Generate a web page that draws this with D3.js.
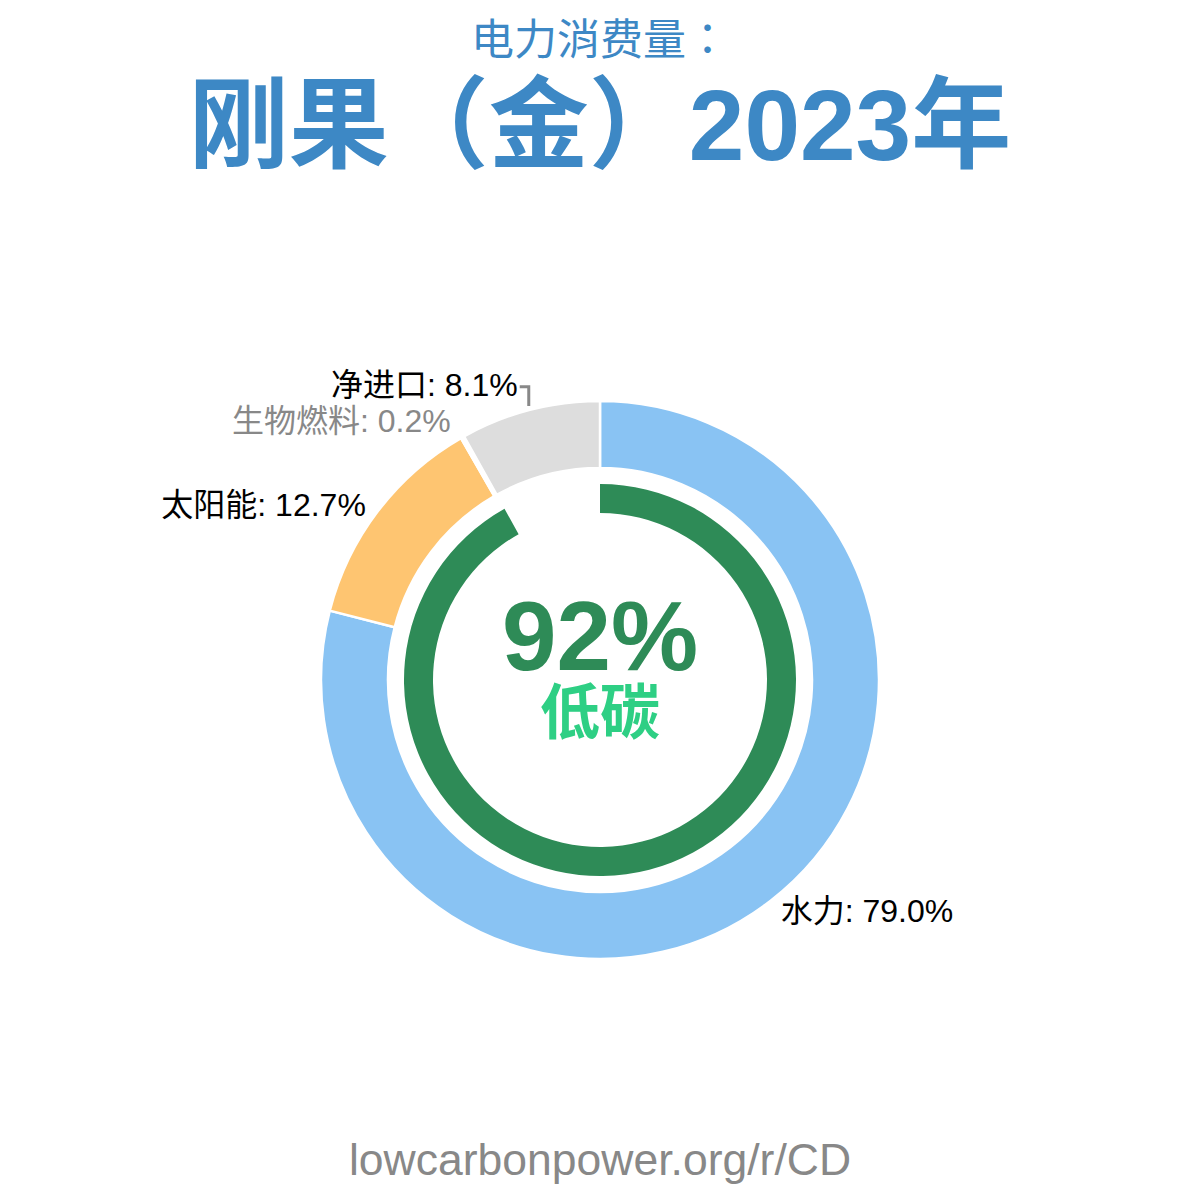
<!DOCTYPE html>
<html>
<head>
<meta charset="utf-8">
<script src="https://cdn.jsdelivr.net/npm/d3@7"></script>
<style>
  body { margin: 0; background: #fff; }
  text { font-family: "Liberation Sans", Arial, "Noto Sans CJK SC", sans-serif; }
</style>
</head>
<body>
<div id="chart"></div>
<script>
// data
var sources = ["水力", "太阳能", "生物燃料", "净进口"];
var shares = [79.0, 12.7, 0.2, 8.1];
var lowCarbon = 91.9;
var lowCarbonLabel = "92%";
var subtitle = "电力消费量：";
var title = "刚果（金）2023年";
var footer = "lowcarbonpower.org/r/CD";

var colors = {"水力": "#89c3f3", "太阳能": "#fec571", "生物燃料": "#ffffff", "净进口": "#dddddd"};
var labelColors = {"水力": "#000", "太阳能": "#000", "生物燃料": "#888", "净进口": "#000"};
// small nudges so labels sit where the original puts them
var labelNudge = {"水力": [-5, 3], "太阳能": [7, 19], "生物燃料": [0, 16], "净进口": [-6, 9]};

var svgWidth = 1200, svgHeight = 1200;
var cx = 600, cy = 680;

var svg = d3.select("#chart")
  .append("svg")
  .attr("width", svgWidth)
  .attr("height", svgHeight);

// titles
svg.append("text")
  .attr("x", cx).attr("y", 55)
  .attr("text-anchor", "middle")
  .style("font-family", "\"Noto Sans CJK TC\", sans-serif")
  .style("font-size", "43px")
  .style("fill", "#3d88c5")
  .text(subtitle);

svg.append("text")
  .attr("x", cx).attr("y", 160)
  .attr("text-anchor", "middle")
  .style("font-size", "100px")
  .style("font-weight", "bold")
  .style("fill", "#3d88c5")
  .text(title);

var chartGroup = svg.append("g")
  .attr("transform", `translate(${cx}, ${cy})`);

var data = sources.map(function(s, i) { return {source: s, share: shares[i]}; });

var pie = d3.pie()
  .sort(null)
  .value(d => d.share);

var arcs = pie(data);

var outerArc = d3.arc().innerRadius(212).outerRadius(279);

chartGroup.selectAll("path.slice")
  .data(arcs)
  .enter()
  .append("path")
  .attr("class", "slice")
  .attr("d", outerArc)
  .style("fill", d => colors[d.data.source])
  .style("stroke", "#fff")
  .style("stroke-width", 2.5);

// low carbon ring
var greenArc = d3.arc()
  .innerRadius(167)
  .outerRadius(196)
  .startAngle(0)
  .endAngle(2 * Math.PI * lowCarbon / 100);

chartGroup.append("path")
  .attr("d", greenArc())
  .style("fill", "#2e8b57");

chartGroup.append("text")
  .attr("x", 0).attr("y", -10)
  .attr("text-anchor", "middle")
  .style("font-size", "98px")
  .style("font-weight", "bold")
  .style("fill", "#2e8b57")
  .text(lowCarbonLabel);

chartGroup.append("text")
  .attr("x", 0).attr("y", 54)
  .attr("text-anchor", "middle")
  .style("font-size", "60px")
  .style("font-weight", "bold")
  .style("fill", "#2ecf84")
  .text("低碳");

// labels
var labelR = 303;
arcs.forEach(function(d) {
  var mid = (d.startAngle + d.endAngle) / 2;
  var nudge = labelNudge[d.data.source];
  var x = Math.sin(mid) * labelR + nudge[0];
  var y = -Math.cos(mid) * labelR + nudge[1];
  var anchor = Math.sin(mid) < 0 ? "end" : "start";
  chartGroup.append("text")
    .attr("x", x).attr("y", y)
    .attr("text-anchor", anchor)
    .style("font-size", "32px")
    .style("fill", labelColors[d.data.source])
    .text(d.data.source + ": " + d.data.share.toFixed(1) + "%");

  if (d.data.source === "净进口") {
    var ex = Math.sin(mid) * 283, ey = -Math.cos(mid) * 283;
    chartGroup.append("path")
      .attr("d", `M${x + 2},${y - 9}H${ex}V${ey}`)
      .style("fill", "none")
      .style("stroke", "#888")
      .style("stroke-width", 3);
  }
});

svg.append("text")
  .attr("x", cx).attr("y", 1175)
  .attr("text-anchor", "middle")
  .style("font-size", "44.5px")
  .style("fill", "#888")
  .text(footer);
</script>
</body>
</html>
